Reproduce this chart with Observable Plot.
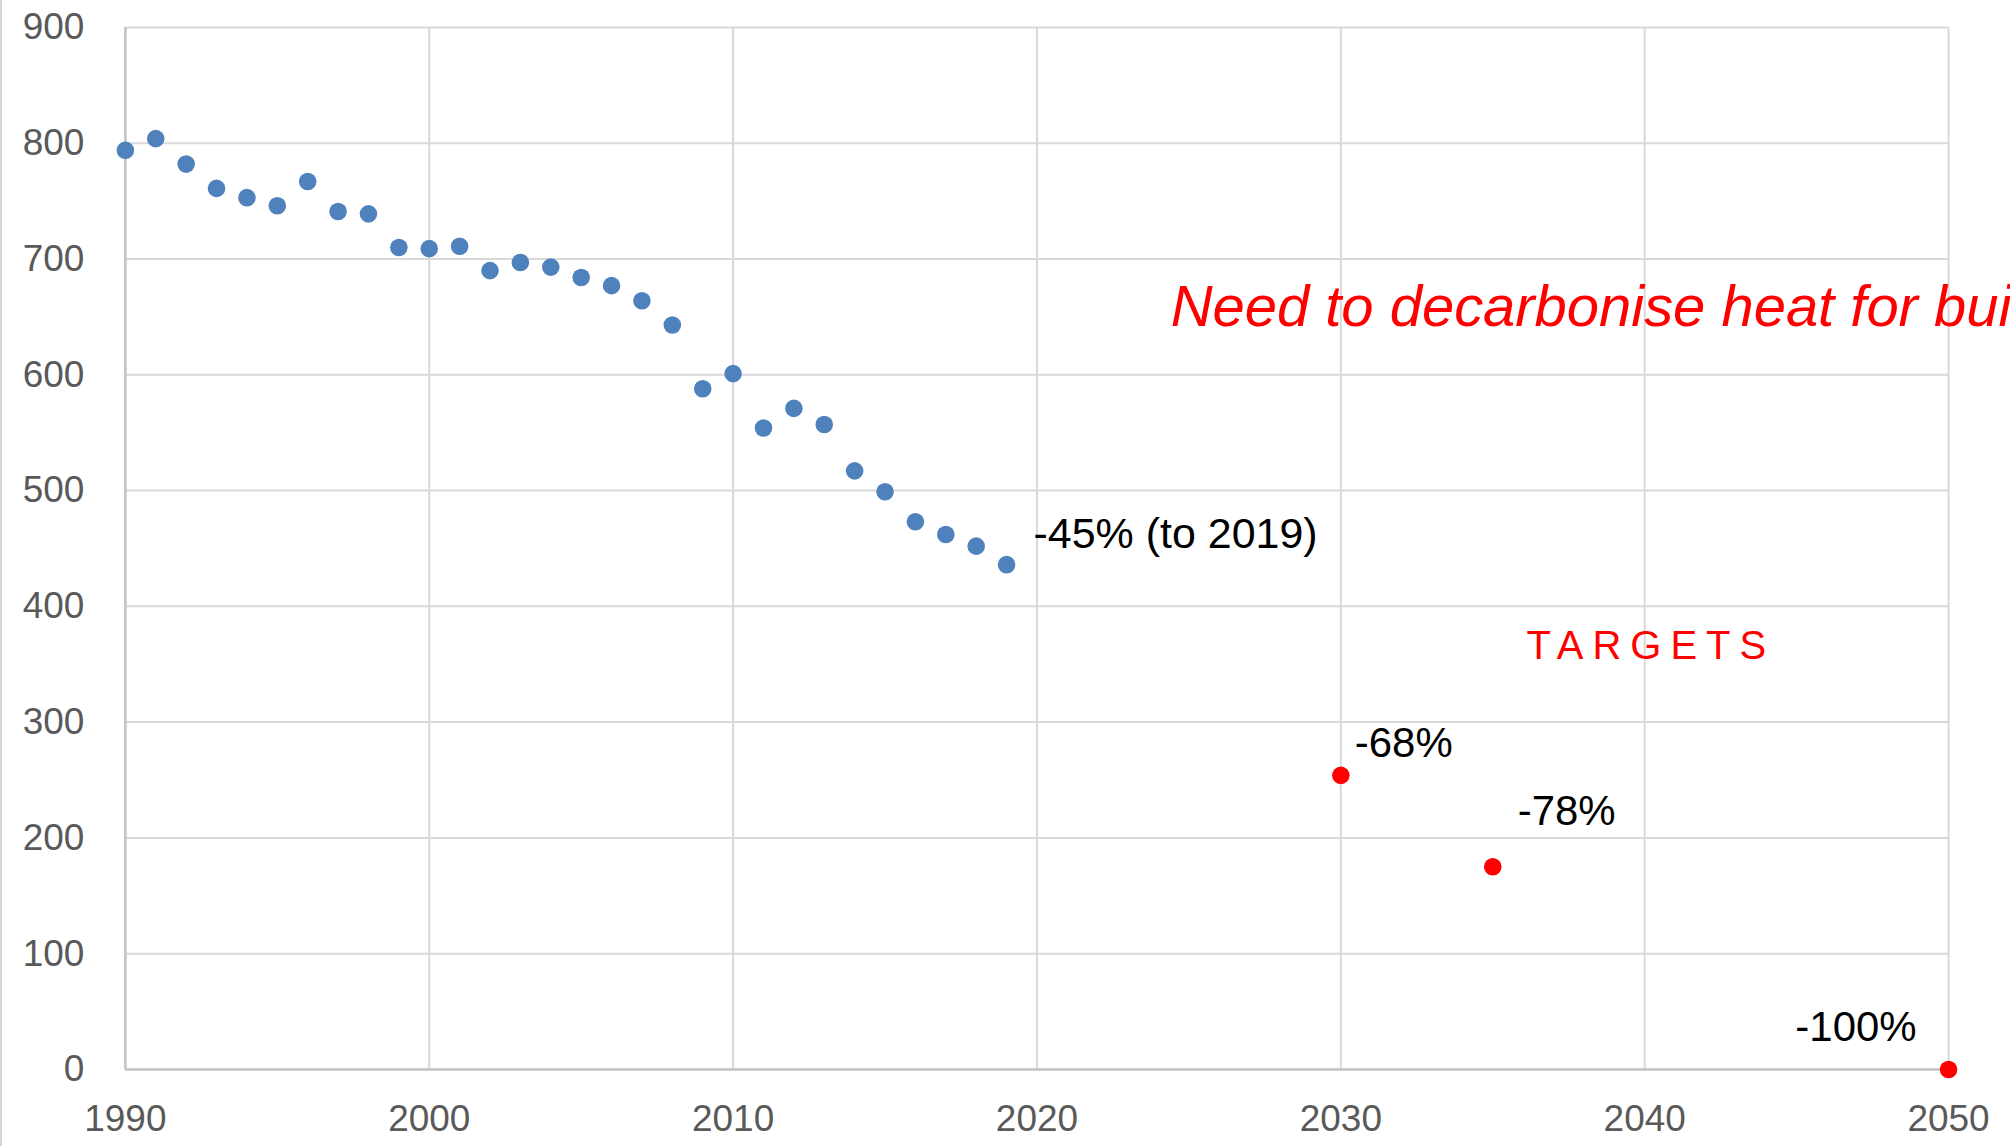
<!DOCTYPE html>
<html>
<head>
<meta charset="utf-8">
<script src="https://cdn.jsdelivr.net/npm/d3@7"></script>
<script src="https://cdn.jsdelivr.net/npm/@observablehq/plot@0.6"></script>
<style>
  html, body { margin: 0; padding: 0; background: white; overflow: hidden; }
  #chart { width: 2010px; height: 1146px; position: relative; box-sizing: border-box; border-left: 2px solid #d4d4d4; overflow: hidden; }
  #chart svg { display: block; margin-left: -2px; }
</style>
</head>
<body>
<div id="chart"></div>
<script>
// Historical emissions, 1990–2019
const years = [1990,1991,1992,1993,1994,1995,1996,1997,1998,1999,
               2000,2001,2002,2003,2004,2005,2006,2007,2008,2009,
               2010,2011,2012,2013,2014,2015,2016,2017,2018,2019];
const emissions = [794,804,782,761,753,746,767,741,739,710,
                   709,711,690,697,693,684,677,664,643,588,
                   601,554,571,557,517,499,473,462,452,436];
// Targets
const targetYears = [2030, 2035, 2050];
const targetValues = [254, 175, 0];
const targetLabels = ["-68%", "-78%", "-100%"];
// Axis ticks
const xTicks = [1990, 2000, 2010, 2020, 2030, 2040, 2050];
const yTicks = [0, 100, 200, 300, 400, 500, 600, 700, 800, 900];
// Annotation texts
const historyLabel = "-45% (to 2019)";
const headline = "Need to decarbonise heat for buildings";
const targetsTitle = "TARGETS";

const hist = years.map((y, i) => ({year: y, value: emissions[i]}));
const targets = targetYears.map((y, i) => ({year: y, value: targetValues[i], label: targetLabels[i]}));
const last = [hist[hist.length - 1]];

const FONT = "Liberation Sans, Arial, sans-serif";

const chart = Plot.plot({
  width: 2010,
  height: 1146,
  marginLeft: 125,
  marginRight: 60,
  marginTop: 27,
  marginBottom: 76,
  style: {fontFamily: FONT, fontSize: "37px", color: "#595959", background: "white", overflow: "visible"},
  x: {domain: [1990, 2050], ticks: xTicks, tickFormat: "d", tickSize: 0, tickPadding: 35, label: null},
  y: {domain: [0, 900], ticks: yTicks, tickSize: 0, tickPadding: 41, label: null},
  marks: [
    Plot.ruleX(xTicks, {stroke: "#d9d9d9", strokeWidth: 2}),
    Plot.ruleY(yTicks, {stroke: "#d9d9d9", strokeWidth: 2}),
    Plot.ruleX([1990], {stroke: "#c4c4c4", strokeWidth: 2.5}),
    Plot.ruleY([0], {stroke: "#c4c4c4", strokeWidth: 2.5}),
    Plot.dot(hist, {x: "year", y: "value", r: 8.8, fill: "#4f81bd", stroke: "none"}),
    Plot.dot(targets, {x: "year", y: "value", r: 8.8, fill: "#ff0000", stroke: "none"}),
    Plot.text(last, {x: "year", y: "value", text: () => historyLabel, dx: 27, dy: -30,
      textAnchor: "start", fontSize: 43, fill: "#000"}),
    Plot.text(targets.filter(d => d.year === 2030), {x: "year", y: "value", text: "label", dx: 14, dy: -32,
      textAnchor: "start", fontSize: 42, fill: "#000"}),
    Plot.text(targets.filter(d => d.year === 2035), {x: "year", y: "value", text: "label", dx: 25, dy: -55,
      textAnchor: "start", fontSize: 42, fill: "#000"}),
    Plot.text(targets.filter(d => d.year === 2050), {x: "year", y: "value", text: "label", dx: -32, dy: -42,
      textAnchor: "end", fontSize: 42, fill: "#000"}),
    Plot.text([headline], {x: 2024.4, y: 658, text: d => d, textAnchor: "start",
      fontSize: 58, fontStyle: "italic", fill: "#ff0000"}),
    Plot.text([targetsTitle], {x: 2040.2, y: 366, text: d => d, textAnchor: "middle",
      fontSize: 40, fill: "#ff0000"})
  ]
});

d3.select(chart).selectAll("text")
  .filter(function() { return this.textContent === targetsTitle; })
  .attr("letter-spacing", "9px")
  .style("letter-spacing", "9px");
document.getElementById("chart").appendChild(chart);
</script>
</body>
</html>
